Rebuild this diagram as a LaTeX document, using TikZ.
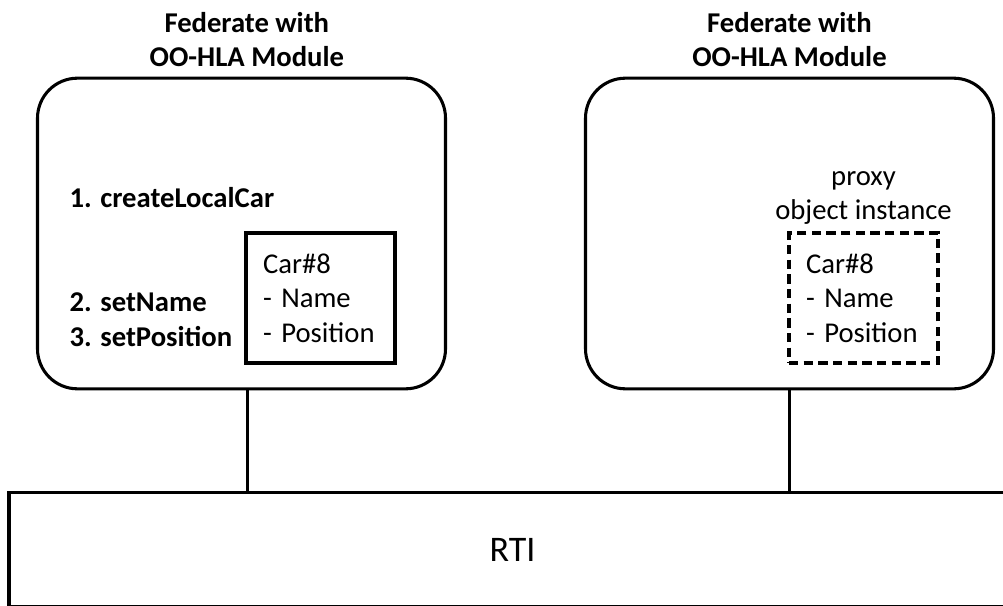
\documentclass[tikz,border=0pt]{standalone}
\usepackage{fontspec}
\setmainfont{Carlito}
\usepackage{tikz}
\usetikzlibrary{positioning}

\begin{document}
\begin{tikzpicture}[x=0.75pt, y=-0.75pt, line width=2.3pt, every node/.style={font=\fontsize{21.5}{26}\selectfont}]
  % Styles
  \tikzstyle{federate}=[rectangle, draw, rounded corners=30pt, minimum width=306pt, minimum height=233pt]
  \tikzstyle{title}=[font=\fontsize{21.5}{26}\selectfont\bfseries, align=center, inner sep=0pt]
  \tikzstyle{steps}=[font=\fontsize{21.5}{26}\selectfont\bfseries, align=left, anchor=west, inner sep=0pt]
  \tikzstyle{objbox}=[rectangle, draw, minimum width=111.75pt, minimum height=97.5pt, text width=86.25pt, inner xsep=12.75pt, align=left]
  \tikzstyle{rtibox}=[rectangle, draw, minimum width=755.25pt, minimum height=85.5pt]

  \useasboundingbox (0,0) rectangle (1003,606);

  % Federates
  \node[federate] (fedA) at (241.5,233.5) {};
  \node[federate] (fedB) at (789.5,233.5) {};
  \node[title, above=6pt of fedA, xshift=4pt] (titleA) {Federate with\\OO-HLA Module};
  \node[title, above=6pt of fedB] (titleB) {Federate with\\OO-HLA Module};

  % Local object
  \node[objbox] (carA) at (320.5,298) {Car\#8\\- Name\\- Position};
  \node[steps] (create) at (68,198) {1. createLocalCar};
  \node[steps] (setters) at (68,320) {2. setName\\3. setPosition};

  % Proxy object
  \node[objbox, dash pattern=on 7pt off 4pt] (carB) at (863.5,298) {Car\#8\\- Name\\- Position};
  \node[align=center, inner sep=0pt, above=4pt of carB] (proxy) {proxy\\object instance};

  % RTI
  \node[rtibox, font=\fontsize{27}{32}\selectfont] (rti) at (512.5,549.5) {RTI};

  % Links
  \draw ([xshift=4.8pt]fedA.south) -- ([xshift=4.8pt]fedA.south |- rti.north);
  \draw (fedB.south) -- (fedB.south |- rti.north);
\end{tikzpicture}
\end{document}
